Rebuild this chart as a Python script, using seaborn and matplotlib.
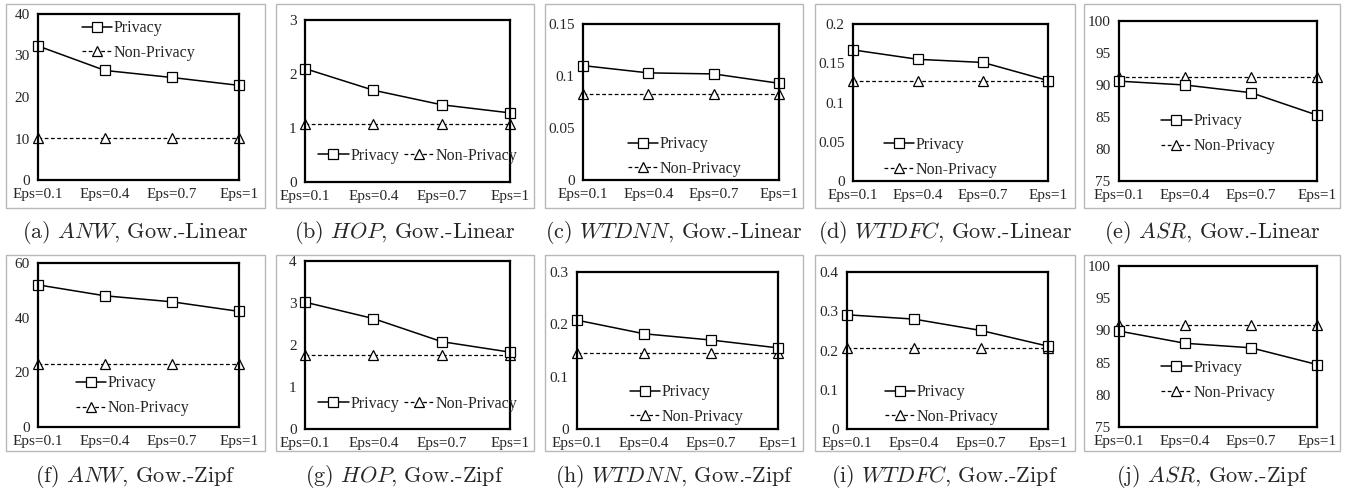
import matplotlib
matplotlib.use("Agg")
import matplotlib.pyplot as plt
import seaborn as sns
from matplotlib.patches import Rectangle

sns.set_style("white")
plt.rcParams["font.family"] = ["Liberation Serif", "DejaVu Serif"]
plt.rcParams["mathtext.fontset"] = "cm"

# Data
eps_labels = ["Eps=0.1", "Eps=0.4", "Eps=0.7", "Eps=1"]

anw_linear_priv = [32.3, 26.4, 24.7, 22.8]
anw_linear_non = [10.2, 10.2, 10.2, 10.2]
hop_linear_priv = [2.10, 1.70, 1.43, 1.28]
hop_linear_non = [1.07, 1.07, 1.07, 1.07]
wtdnn_linear_priv = [0.110, 0.103, 0.102, 0.093]
wtdnn_linear_non = [0.083, 0.083, 0.083, 0.083]
wtdfc_linear_priv = [0.167, 0.155, 0.151, 0.128]
wtdfc_linear_non = [0.128, 0.128, 0.128, 0.128]
asr_linear_priv = [90.6, 90.0, 88.8, 85.3]
asr_linear_non = [91.2, 91.2, 91.2, 91.2]

anw_zipf_priv = [52.0, 48.0, 45.8, 42.3]
anw_zipf_non = [23.2, 23.2, 23.2, 23.2]
hop_zipf_priv = [3.02, 2.63, 2.08, 1.83]
hop_zipf_non = [1.76, 1.76, 1.76, 1.76]
wtdnn_zipf_priv = [0.208, 0.182, 0.170, 0.155]
wtdnn_zipf_non = [0.145, 0.145, 0.145, 0.145]
wtdfc_zipf_priv = [0.291, 0.280, 0.251, 0.211]
wtdfc_zipf_non = [0.207, 0.207, 0.207, 0.207]
asr_zipf_priv = [89.9, 88.0, 87.3, 84.7]
asr_zipf_non = [90.9, 90.9, 90.9, 90.9]

captions = [
    r"(a) $ANW$, Gow.-Linear", r"(b) $HOP$, Gow.-Linear", r"(c) $WTDNN$, Gow.-Linear",
    r"(d) $WTDFC$, Gow.-Linear", r"(e) $ASR$, Gow.-Linear",
    r"(f) $ANW$, Gow.-Zipf", r"(g) $HOP$, Gow.-Zipf", r"(h) $WTDNN$, Gow.-Zipf",
    r"(i) $WTDFC$, Gow.-Zipf", r"(j) $ASR$, Gow.-Zipf",
]

# (priv, non, yticks, ytick labels, legend centre, legend cols)
panels = [
    (anw_linear_priv, anw_linear_non, [0, 10, 20, 30, 40], None, (0.5, 0.84), 1),
    (hop_linear_priv, hop_linear_non, [0, 1, 2, 3], None, (0.55, 0.16), 2),
    (wtdnn_linear_priv, wtdnn_linear_non, [0, 0.05, 0.1, 0.15], ["0", "0.05", "0.1", "0.15"], (0.52, 0.15), 1),
    (wtdfc_linear_priv, wtdfc_linear_non, [0, 0.05, 0.1, 0.15, 0.2], ["0", "0.05", "0.1", "0.15", "0.2"], (0.45, 0.15), 1),
    (asr_linear_priv, asr_linear_non, [75, 80, 85, 90, 95, 100], None, (0.5, 0.295), 1),
    (anw_zipf_priv, anw_zipf_non, [0, 20, 40, 60], None, (0.47, 0.19), 1),
    (hop_zipf_priv, hop_zipf_non, [0, 1, 2, 3, 4], None, (0.55, 0.15), 2),
    (wtdnn_zipf_priv, wtdnn_zipf_non, [0, 0.1, 0.2, 0.3], ["0", "0.1", "0.2", "0.3"], (0.545, 0.155), 1),
    (wtdfc_zipf_priv, wtdfc_zipf_non, [0, 0.1, 0.2, 0.3, 0.4], ["0", "0.1", "0.2", "0.3", "0.4"], (0.47, 0.155), 1),
    (asr_zipf_priv, asr_zipf_non, [75, 80, 85, 90, 95, 100], None, (0.5, 0.29), 1),
]

# pixel layout (left, right, top, bottom) for axes and grey frames
axes_px = [
    (38, 239, 14, 180), (305, 510, 20, 182), (583, 779, 24, 180), (853, 1048, 24, 181), (1119, 1317, 21, 181),
    (38, 239, 263, 427), (305, 510, 261, 429), (577, 778, 272, 429), (847, 1048, 272, 429), (1119, 1317, 266, 427),
]
frames_px = [(6, 265), (276, 534), (545, 803), (815, 1075), (1084, 1340)]

W, H = 1351, 500
fig = plt.figure(figsize=(W / 100, H / 100), dpi=100)

for i, (priv, non, yt, ytl, leg_xy, ncol) in enumerate(panels):
    l, r, t, b = axes_px[i]
    row = i // 5
    fl, fr = frames_px[i % 5]
    ft, fb = (4, 208) if row == 0 else (255, 451)
    fig.add_artist(Rectangle((fl / W, 1 - fb / H), (fr - fl) / W, (fb - ft) / H,
                             transform=fig.transFigure, fill=False, edgecolor="#b8b8b8", linewidth=1))
    ax = fig.add_axes([l / W, 1 - b / H, (r - l) / W, (b - t) / H])
    sns.lineplot(x=eps_labels, y=priv, ax=ax, color="black", linewidth=1.1, marker="s",
                 markersize=7.5, markerfacecolor="white", markeredgecolor="black",
                 markeredgewidth=0.9, label="Privacy", clip_on=False, zorder=4)
    sns.lineplot(x=eps_labels, y=non, ax=ax, color="black", linewidth=0.9, linestyle=(0, (3, 2)),
                 marker="^", markersize=7.5, markerfacecolor="white", markeredgecolor="black",
                 markeredgewidth=0.9, label="Non-Privacy", clip_on=False, zorder=3)
    ax.set_xlim(0, 3)
    ax.set_ylim(yt[0], yt[-1])
    ax.set_yticks(yt)
    if ytl is not None:
        ax.set_yticklabels(ytl)
    ax.tick_params(direction="in", length=4, width=1, labelsize=11, color="black")
    ax.tick_params(axis="x", pad=6)
    ax.tick_params(axis="y", pad=6)
    for sp in ax.spines.values():
        sp.set_color("black")
        sp.set_linewidth(1.6)
        sp.set_zorder(5)
    ax.set_xlabel("")
    ax.set_ylabel("")
    ax.legend(loc="center", bbox_to_anchor=leg_xy, ncol=ncol, frameon=False, fontsize=11.5,
              handlelength=1.9, handletextpad=0.1, columnspacing=0.3, labelspacing=0.55,
              borderpad=0.1, borderaxespad=0)
    fig.text((fl + fr) / 2 / W, 1 - (233 if row == 0 else 477) / H, captions[i],
             ha="center", va="center", fontsize=16, family="cmr10")

fig.savefig("out.png", dpi=100)
